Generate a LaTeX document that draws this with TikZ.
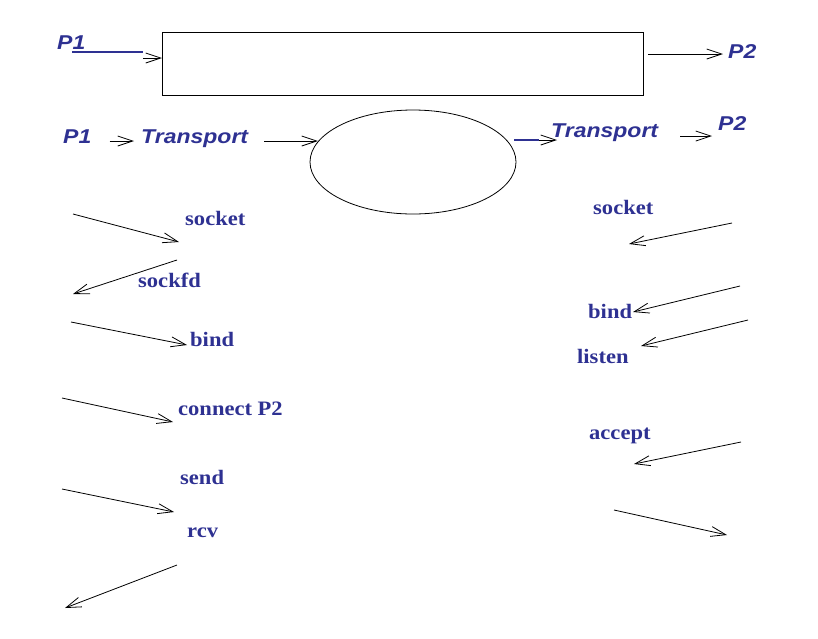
\documentclass[tikz,border=0pt]{standalone}
\usepackage{fontspec}
\usepackage{xcolor}
\usepackage{tikz}
\usetikzlibrary{shapes.geometric, arrows.meta, positioning}
\newfontfamily\procfont{Liberation Sans}[FakeStretch=1.15]
\newfontfamily\callfont{Liberation Serif}[FakeStretch=1.1]
\definecolor{procblue}{RGB}{46,49,146}
\tikzset{
  proc/.style={font=\procfont\bfseries\itshape\fontsize{20}{24}\selectfont, text=procblue, inner sep=0pt, anchor=base west},
  call/.style={font=\callfont\bfseries\fontsize{20.5}{24}\selectfont, text=procblue, inner sep=0pt, anchor=base west},
  arr/.style={-{Straight Barb[length=15pt,width=10pt]}, line width=0.8pt},
  bar/.style={procblue, line width=2.6pt}
}
\begin{document}
\begin{tikzpicture}[x=1pt, y=-1pt]
  \useasboundingbox (0,0) rectangle (818,638);
  %% top row: P1 -> box -> P2
  \node[draw, line width=0.9pt, inner sep=0pt, outer sep=0pt, anchor=north west,
        minimum width=481, minimum height=63] (box) at (162,32) {};
  \node[proc] (p1top) at (57,49) {P1};
  \node[proc] (p2top) at (728,58) {P2};
  \coordinate (barA) at (143,58);
  \draw[bar] (72,52) -- (143,52);
  \draw[arr] (barA) -- (barA -| box.west);
  \coordinate (outA) at (648,54);
  \draw[arr] (outA) -- (723,54);
  %% second row: P1 -> Transport -> ellipse -> Transport -> P2
  \node[draw, ellipse, line width=0.8pt, inner sep=0pt,
        minimum width=206, minimum height=104] (ring) at (413,162) {};
  \node[proc] (p1) at (63,143) {P1};
  \node[proc] (trA) at (141,143) {Transport};
  \node[proc] (trB) at (551,137) {Transport};
  \node[proc] (p2) at (718,130) {P2};
  \draw[arr] ([xshift=18,yshift=2]p1.base east) -- ([xshift=-7,yshift=2]trA.base west);
  \coordinate (inB) at (264,141);
  \draw[arr] (inB) -- (318,141);
  \draw[bar] (514,140) -- (539,140);
  \coordinate (barB) at (539,140);
  \draw[arr] (barB) -- ([xshift=6,yshift=-3]trB.base west);
  \draw[arr] ([xshift=22,yshift=1]trB.base east) -- ([xshift=-6,yshift=-6]p2.base west);
  %% left side calls
  \node[call] (socA) at (185,225) {socket};
  \node[call] (sockfd) at (138,287) {sockfd};
  \node[call] (bindA) at (190,346) {bind};
  \node[call] (connect) at (178,415) {connect P2};
  \node[call] (send) at (180,484) {send};
  \node[call] (rcv) at (187,537) {rcv};
  \foreach \n/\sx/\sy/\ex/\ey in {l1/73/214/179/242, l2/177/260/73/294,
      l3/71/322/187/345, l4/62/398/173/422, l5/62/489/174/512, l6/177/565/65/608}{
    \coordinate (\n s) at (\sx,\sy);
    \coordinate (\n e) at (\ex,\ey);
    \draw[arr] (\n s) -- (\n e);
  }
  %% right side calls
  \node[call] (socB) at (593,214) {socket};
  \node[call] (bindB) at (588,318) {bind};
  \node[call] (listen) at (577,363) {listen};
  \node[call] (accept) at (589,439) {accept};
  \foreach \n/\sx/\sy/\ex/\ey in {r1/732/223/629/244, r2/740/286/633/312,
      r3/748/320/641/346, r4/741/442/634/464, r5/614/510/727/535}{
    \coordinate (\n s) at (\sx,\sy);
    \coordinate (\n e) at (\ex,\ey);
    \draw[arr] (\n s) -- (\n e);
  }
\end{tikzpicture}
\end{document}
